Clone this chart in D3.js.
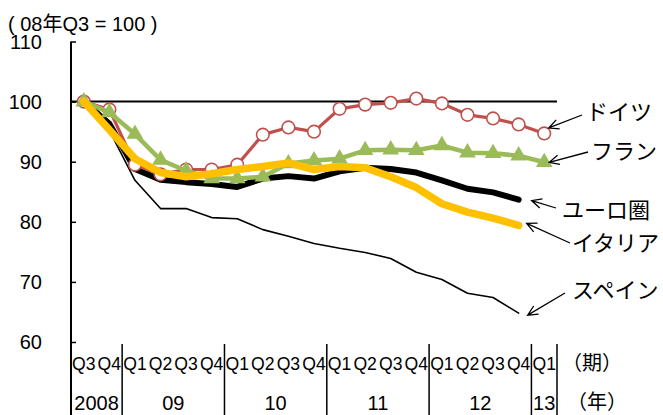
<!DOCTYPE html>
<html><head><meta charset="utf-8">
<script src="https://cdn.jsdelivr.net/npm/d3@7"></script>
<style>
html,body{margin:0;padding:0;background:#fff;overflow:hidden}
svg{display:block}
</style></head>
<body><svg id="chart" width="663" height="415"></svg>
<script>
// ---- data ----
const quarterLabels = ["Q3","Q4","Q1","Q2","Q3","Q4","Q1","Q2","Q3","Q4","Q1","Q2","Q3","Q4","Q1","Q2","Q3","Q4","Q1"];
const yearLabels = ["2008","09","10","11","12","13"];
const yearSpans = [2,4,4,4,4,1];
const yTicks = [60,70,80,90,100,110];
const seriesNames = ["ドイツ","フラン","ユーロ圏","イタリア","スペイン"];
const germany = [100,98.7,89.5,87.9,88.7,88.7,89.5,94.5,95.7,95.0,98.8,99.5,99.8,100.5,99.7,97.8,97.2,96.2,94.7];
const france  = [100,98.2,94.6,90.3,88.5,87.2,87.2,87.5,89.7,90.2,90.5,91.9,92.0,91.9,92.7,91.5,91.4,91.0,89.9];
const euro    = [100,96.3,88.8,87.0,86.6,86.3,85.8,87.2,87.6,87.2,88.4,89.0,88.8,88.2,86.9,85.5,84.9,83.7];
const italy   = [100,95.3,90.5,88.2,87.5,88.0,88.7,89.2,89.8,88.7,89.2,89.0,87.5,85.7,83.0,81.6,80.6,79.4];
const spain   = [100,95.2,86.9,82.2,82.2,80.7,80.5,78.7,77.6,76.4,75.6,74.9,73.9,71.6,70.4,68.1,67.4,64.8];
const baseValue = 100;

// ---- layout ----
const svg = d3.select("#chart");
const LAT = "'Liberation Sans', Arial, 'Noto Sans CJK JP', sans-serif";
const CJK = "'Noto Sans CJK JP', 'Noto Sans', sans-serif";
const x = d3.scaleBand().domain(d3.range(quarterLabels.length)).range([71, 557]).paddingInner(0).paddingOuter(0);
const y = d3.scaleLinear().domain([60, 110]).range([342, 41.5]);
const cx = i => x(i) + x.bandwidth() / 2;

// unit label
svg.append("text").attr("x", 8).attr("y", 31).attr("font-family", LAT).attr("font-size", 20)
  .attr("fill", "#000").text("( 08年Q3 = 100 )");

// y axis
const yAxis = d3.axisRight(y).tickValues(yTicks).tickSize(5).tickFormat("");
const yg = svg.append("g").attr("transform", "translate(71,0)").call(yAxis);
yg.select(".domain").remove();
yg.selectAll(".tick line").attr("stroke", "#000").attr("stroke-width", 1.5);
svg.append("line").attr("x1", 71).attr("x2", 71).attr("y1", y(110)).attr("y2", 415)
  .attr("stroke", "#000").attr("stroke-width", 2);
svg.selectAll(".ylab").data(yTicks).join("text").attr("class", "ylab")
  .attr("x", 42).attr("y", d => y(d)).attr("dy", "0.36em").attr("text-anchor", "end")
  .attr("font-family", LAT).attr("font-size", 20).attr("fill", "#000").text(d => d);

// base line at 100
svg.append("line").attr("x1", 71).attr("x2", 557).attr("y1", y(baseValue)).attr("y2", y(baseValue))
  .attr("stroke", "#000").attr("stroke-width", 2);

// x axis: quarter labels
svg.selectAll(".qlab").data(quarterLabels).join("text").attr("class", "qlab")
  .attr("x", (d, i) => cx(i)).attr("y", 370).attr("text-anchor", "middle")
  .attr("font-family", LAT).attr("font-size", 18).attr("fill", "#000")
  .attr("textLength", 23.5).attr("lengthAdjust", "spacingAndGlyphs").text(d => d);
// year groups
let acc = 0;
const yearGroups = yearLabels.map((l, k) => { const s = acc; acc += yearSpans[k]; return {label: l, start: s, end: acc}; });
const bnd = i => i >= quarterLabels.length ? x.range()[1] : x(i);
svg.selectAll(".ysep").data(yearGroups).join("line").attr("class", "ysep")
  .attr("x1", d => bnd(d.end)).attr("x2", d => bnd(d.end)).attr("y1", 344).attr("y2", 415)
  .attr("stroke", "#000").attr("stroke-width", 1.5);
svg.selectAll(".ylabx").data(yearGroups).join("text").attr("class", "ylabx")
  .attr("x", d => (bnd(d.start) + bnd(d.end)) / 2).attr("y", 410)
  .attr("text-anchor", "middle").attr("font-family", LAT).attr("font-size", 20).attr("fill", "#000")
  .text(d => d.label);
svg.append("text").attr("x", 562).attr("y", 370).attr("font-family", CJK).attr("font-size", 20)
  .attr("fill", "#000").text("（期）");
svg.append("text").attr("x", 567).attr("y", 409).attr("font-family", CJK).attr("font-size", 20)
  .attr("fill", "#000").text("（年）");

// ---- lines ----
const line = d3.line().x((d, i) => cx(i)).y(d => y(d)).curve(d3.curveLinear);
function drawLine(data, color, w) {
  svg.append("path").datum(data).attr("d", line).attr("fill", "none").attr("stroke", color)
    .attr("stroke-width", w).attr("stroke-linejoin", "round").attr("stroke-linecap", "round");
}
drawLine(spain, "#000", 1.6);
drawLine(euro, "#000", 6);
// Germany
drawLine(germany, "#C0504D", 3.2);
svg.selectAll(".gm").data(germany).join("circle").attr("class", "gm")
  .attr("cx", (d, i) => cx(i)).attr("cy", d => y(d)).attr("r", 6.3)
  .attr("fill", "#fff").attr("stroke", "#C0504D").attr("stroke-width", 1.6);
// France
drawLine(france, "#9BBB59", 4.5);
const tri = d3.symbol().type(d3.symbolTriangle).size(120);
svg.selectAll(".fr").data(france).join("path").attr("class", "fr")
  .attr("transform", (d, i) => `translate(${cx(i)},${y(d)})`).attr("d", tri).attr("fill", "#9BBB59");
// Italy
drawLine(italy, "#FFC000", 7.5);

// ---- end labels with arrows ----
const ends = [
  {name: seriesNames[0], data: germany, dx: 4.5, dy: -5.5, from: [582, 115], tx: 586, ty: 112},
  {name: seriesNames[1], data: france,  dx: 5,   dy: 0,    from: [588, 152], tx: 591, ty: 151},
  {name: seriesNames[2], data: euro,    dx: 13,  dy: 1,    from: [556, 208], tx: 562, ty: 210},
  {name: seriesNames[3], data: italy,   dx: 8,   dy: -2,   from: [570, 243], tx: 572, ty: 243},
  {name: seriesNames[4], data: spain,   dx: 9,   dy: 2,    from: [565, 293], tx: 572, ty: 290}
];
ends.forEach(e => {
  const li = e.data.length - 1;
  const tip = [cx(li) + e.dx, y(e.data[li]) + e.dy];
  const ang = Math.atan2(e.from[1] - tip[1], e.from[0] - tip[0]);
  const L = 11, a = 0.45;
  const p1 = [tip[0] + L * Math.cos(ang + a), tip[1] + L * Math.sin(ang + a)];
  const p2 = [tip[0] + L * Math.cos(ang - a), tip[1] + L * Math.sin(ang - a)];
  svg.append("path").attr("d", `M${e.from[0]},${e.from[1]}L${tip[0]},${tip[1]}M${p1[0]},${p1[1]}L${tip[0]},${tip[1]}L${p2[0]},${p2[1]}`)
    .attr("fill", "none").attr("stroke", "#000").attr("stroke-width", 1.3);
  svg.append("text").attr("x", e.tx).attr("y", e.ty).attr("dy", "0.36em")
    .attr("font-family", CJK).attr("font-size", 22).attr("fill", "#000").text(e.name);
});
</script></body></html>
